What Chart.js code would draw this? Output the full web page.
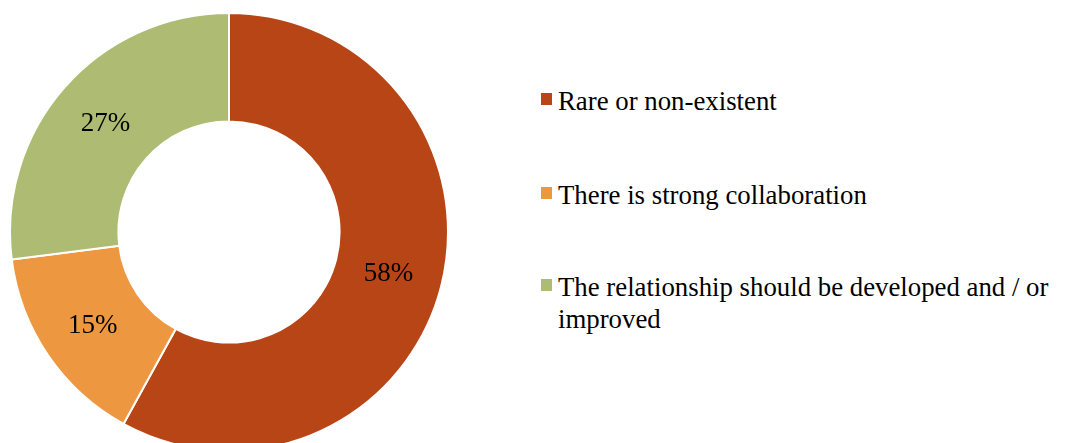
<!DOCTYPE html>
<html>
<head>
<meta charset="utf-8">
<script src="https://cdn.jsdelivr.net/npm/chart.js@4.4.1/dist/chart.umd.min.js"></script>
<style>
  html, body { margin: 0; padding: 0; background: #fff; overflow: hidden; }
  body { width: 1092px; height: 443px; position: relative; font-family: 'Liberation Serif', serif; }
  #pieBox { position: absolute; left: 9px; top: 12px; width: 440px; height: 440px; }
  #legend { position: absolute; left: 541px; top: 0; }
  .item { position: absolute; left: 0; width: 540px; }
  .mark { position: absolute; left: 0; width: 11px; height: 12px; }
  .txt { position: absolute; left: 17px; width: 530px; font-size: 26.8px; line-height: 32px; color: #000; }
</style>
</head>
<body>
<div id="pieBox"><canvas id="answersChart"></canvas></div>
<div id="legend"></div>
<script>
// survey answers, in drawing order (clockwise from 12 o'clock)
const answers = ['Rare or non-existent', 'There is strong collaboration', 'The relationship should be developed and / or improved']
const shares = [58, 15, 27]
const sliceColors = ['#B84516', '#ED9841', '#ADBC72']

// draws "58%" etc. in the middle of every slice
const sliceLabels = {
    id: 'sliceLabels',
    afterDatasetsDraw(chart) {
        const { ctx } = chart
        const meta = chart.getDatasetMeta(0)
        ctx.save()
        ctx.font = '27px "Liberation Serif"'
        ctx.fillStyle = '#000'
        ctx.textAlign = 'center'
        ctx.textBaseline = 'middle'
        meta.data.forEach((arc, i) => {
            const { x, y } = arc.tooltipPosition()
            ctx.fillText(shares[i] + '%', x, y + 1)
        })
        ctx.restore()
    }
}

const renderAnswersChart = () => {
    const data = {
        labels: answers,
        datasets: [{
            data: shares,
            backgroundColor: sliceColors,
            borderColor: '#fff',
            borderWidth: 2
        }]
    }

    const options = {
        responsive: true,
        maintainAspectRatio: false,
        animation: false,
        cutout: '50.5%',
        layout: { padding: 0 },
        plugins: {
            legend: { display: false },
            tooltip: { enabled: false }
        }
    }

    new Chart('answersChart', { type: 'doughnut', data, options, plugins: [sliceLabels] })
}

// html legend so the long label can wrap like the original
const renderLegend = () => {
    const legend = document.getElementById('legend')
    const tops = [93, 187, 279]
    answers.forEach((label, i) => {
        const item = document.createElement('div')
        item.className = 'item'
        item.style.top = tops[i] + 'px'
        item.innerHTML = '<div class="mark" style="background:' + sliceColors[i] + '"></div>' +
            '<div class="txt" style="top:-8px">' + label + '</div>'
        legend.appendChild(item)
    })
}

renderAnswersChart()
renderLegend()
</script>
</body>
</html>
